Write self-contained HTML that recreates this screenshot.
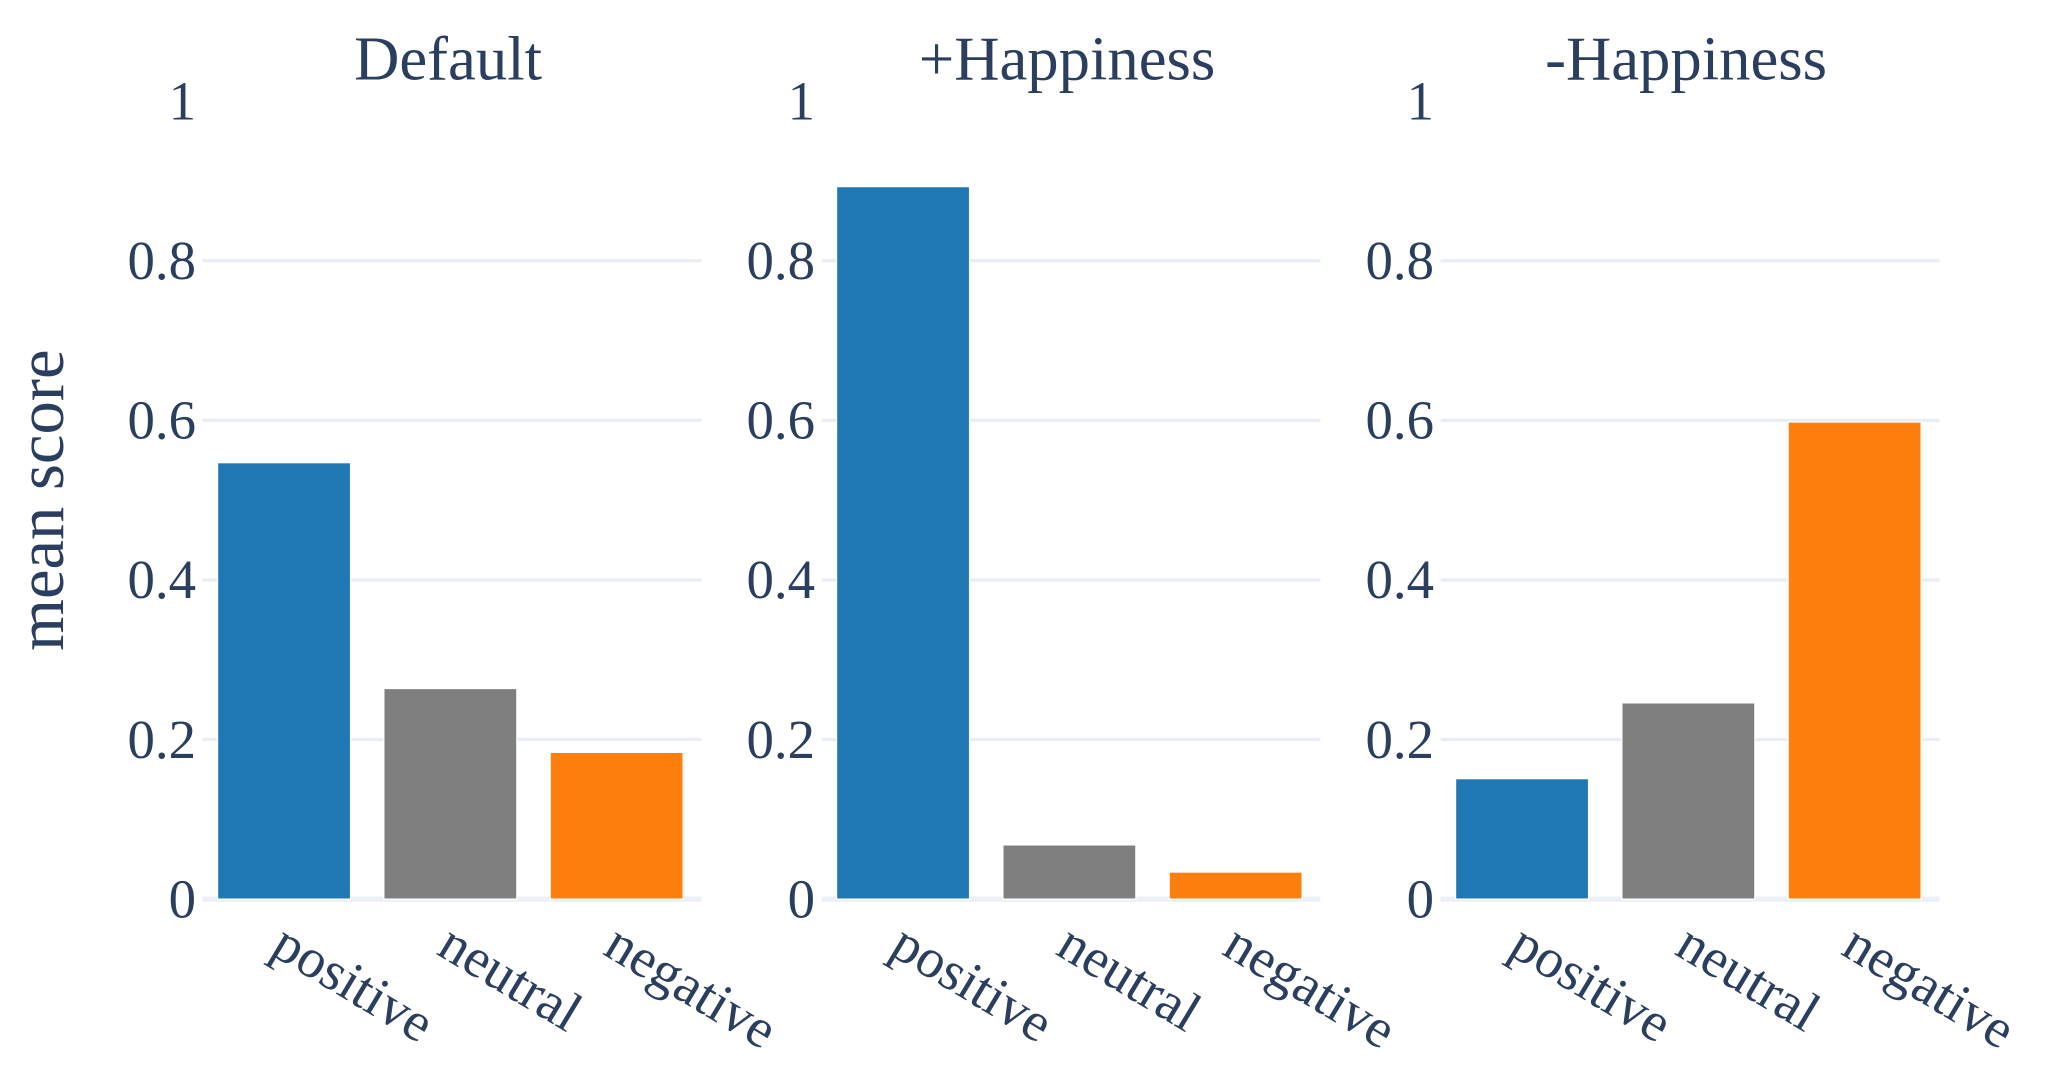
<!DOCTYPE html>
<html><head><meta charset="utf-8"><style>html,body{margin:0;padding:0;background:#fff}svg{display:block}</style></head>
<body>
<svg width="2048" height="1080" viewBox="0 0 1568 827" xmlns="http://www.w3.org/2000/svg" font-family="'Liberation Serif', serif" fill="#2a3f5f">
<g id="root"></g>
<text transform="translate(48,383) rotate(-90)" text-anchor="middle" font-size="51">mean score</text>
</svg>
<script>
const panelTitles = ["Default", "+Happiness", "-Happiness"];
const categories = ["positive", "neutral", "negative"];
const defaultValues = [0.547, 0.264, 0.184];
const plusHappinessValues = [0.893, 0.068, 0.034];
const minusHappinessValues = [0.151, 0.246, 0.598];
const yTicks = [0, 0.2, 0.4, 0.6, 0.8, 1];
const yTickLabels = ["0", "0.2", "0.4", "0.6", "0.8", "1"];
const colors = ["#1f77b4", "#7f7f7f", "#ff7f0e"];

const NS = "http://www.w3.org/2000/svg";
const root = document.getElementById('root');
const panelLefts = [155, 629, 1103];
const panelW = 382, y0 = 688.5, y1 = 77.5;
function yScale(v) { return y0 - v * (y0 - y1); }
function xBand(p, i) { return panelLefts[p] + panelW / 3 * i; }
function mk(tag, attrs) { const e = document.createElementNS(NS, tag); for (const k in attrs) e.setAttribute(k, attrs[k]); return e; }
const allValues = [defaultValues, plusHappinessValues, minusHappinessValues];
const names = ["default", "plus-happiness", "minus-happiness"];
for (let p = 0; p < 3; p++) {
  const g = mk('g', {});
  
  
  root.appendChild(g);
  const t = mk('text', { x: panelLefts[p] + panelW / 2 - 3, y: 61, 'text-anchor': 'middle', 'font-size': 48 });
  t.textContent = panelTitles[p];
  
  
  g.appendChild(t);
  yTicks.forEach((v, k) => {
    const y = yScale(v);
    if (v > 0 && v < 1) {
      const l = mk('line', { x1: panelLefts[p], x2: panelLefts[p] + panelW, y1: y, y2: y, stroke: '#e8edf6', 'stroke-width': 2.5 });
      
      
      g.appendChild(l);
    }
    const tl = mk('text', { x: panelLefts[p] - 5, y: y + 14, 'text-anchor': 'end', 'font-size': 42 });
    tl.textContent = yTickLabels[k];
    
    
    g.appendChild(tl);
  });
  const z = mk('line', { x1: panelLefts[p], x2: panelLefts[p] + panelW, y1: y0, y2: y0, stroke: '#ebf0f8', 'stroke-width': 4 });
  
  
  g.appendChild(z);
  const bw = panelW / 3;
  allValues[p].forEach((v, i) => {
    const x = xBand(p, i) + bw * 0.09;
    const r = mk('rect', { x: x, y: yScale(v), width: bw * 0.8, height: y0 - yScale(v), fill: colors[i], stroke: '#fff', 'stroke-width': 1 });
    
    
    g.appendChild(r);
    const cx = xBand(p, i) + bw / 2;
    const lab = mk('text', { transform: 'translate(' + (cx - 13) + ',' + 730 + ') rotate(31)', 'font-size': 42.5 });
    lab.textContent = categories[i];
    
    
    g.appendChild(lab);
  });
}
</script>
</body></html>
